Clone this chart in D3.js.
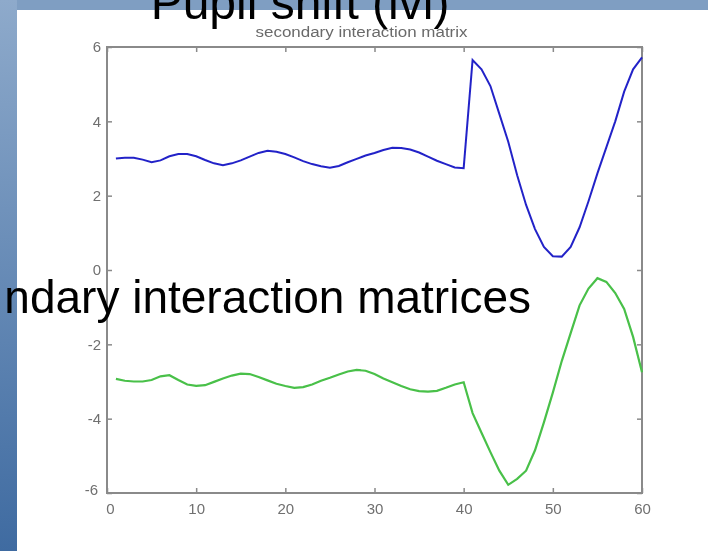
<!DOCTYPE html>
<meta charset="utf-8">
<script src="https://d3js.org/d3.v7.min.js"></script>
<style>
  body { margin: 0; background: #fff; }
</style>
<div id="chart"></div>
<script>

// sample index 1..60
var xs = d3.range(1, 61);

// upper curve (blue)
var blueVals = [3.00, 3.02, 3.02, 2.97, 2.90, 2.95, 3.06, 3.12, 3.12, 3.06,
                2.96, 2.87, 2.82, 2.87, 2.95, 3.05, 3.15, 3.21, 3.18, 3.12,
                3.03, 2.93, 2.85, 2.79, 2.75, 2.80, 2.90, 2.99, 3.08, 3.15,
                3.23, 3.29, 3.28, 3.24, 3.16, 3.05, 2.94, 2.85, 2.76, 2.74,
                5.65, 5.40, 4.95, 4.20, 3.45, 2.55, 1.75, 1.10, 0.62, 0.37,
                0.36, 0.62, 1.15, 1.85, 2.60, 3.30, 4.00, 4.80, 5.40, 5.72];

// lower curve (green)
var greenVals = [-2.93, -2.98, -3.00, -3.00, -2.96, -2.86, -2.83, -2.96, -3.08, -3.12,
                 -3.10, -3.01, -2.92, -2.84, -2.79, -2.80, -2.88, -2.97, -3.06, -3.12,
                 -3.17, -3.15, -3.08, -2.98, -2.90, -2.81, -2.73, -2.69, -2.71, -2.80,
                 -2.92, -3.02, -3.12, -3.21, -3.26, -3.27, -3.25, -3.17, -3.08, -3.02,
                 -3.85, -4.38, -4.90, -5.40, -5.78, -5.62, -5.40, -4.85, -4.10, -3.30,
                 -2.45, -1.70, -0.95, -0.50, -0.22, -0.32, -0.62, -1.05, -1.80, -2.75];

var xTicks = [0, 10, 20, 30, 40, 50, 60];
var yTicks = [-6, -4, -2, 0, 2, 4, 6];

var W = 708, H = 551;
var margin = {top: 47, right: 66, bottom: 58, left: 107},
    width = W - margin.left - margin.right,
    height = H - margin.top - margin.bottom;

var svg = d3.select("#chart")
  .append("svg")
    .attr("width", W)
    .attr("height", H);

// slide background: strip on the left, band on top
var defs = svg.append("defs");
var grad = defs.append("linearGradient")
    .attr("id", "strip")
    .attr("x1", 0).attr("y1", 0).attr("x2", 0).attr("y2", 1);
grad.append("stop").attr("offset", "0%").attr("stop-color", "#8eaacb");
grad.append("stop").attr("offset", "100%").attr("stop-color", "#3f6ba1");

defs.append("filter")
    .attr("id", "soft")
  .append("feGaussianBlur")
    .attr("stdDeviation", 0.5);

svg.append("rect")
    .attr("width", W).attr("height", H)
    .attr("fill", "#fff");
svg.append("rect")
    .attr("x", 0).attr("y", 0)
    .attr("width", W).attr("height", 10)
    .attr("fill", "#7f9ec2");
svg.append("rect")
    .attr("x", 0).attr("y", 0)
    .attr("width", 17).attr("height", H)
    .attr("fill", "url(#strip)");

// scales
var x = d3.scaleLinear()
    .domain([0, 60])
    .range([0, width]);
var y = d3.scaleLinear()
    .domain([-6, 6])
    .range([height, 0]);

var g = svg.append("g")
    .attr("transform", "translate(" + margin.left + "," + margin.top + ")")
    .attr("filter", "url(#soft)");

// matlab-style boxed axes, ticks pointing in
var axisColor = "#8a8a8a",
    labelColor = "#6f6f6f",
    plain = function(d) { return String(d); };   // hyphen minus like matlab

function styleAxis(sel) {
  sel.select(".domain").remove();
  sel.selectAll(".tick line").attr("stroke", axisColor).attr("stroke-width", 1.5);
  sel.selectAll(".tick text")
    .attr("fill", labelColor)
    .style("font-family", "Liberation Sans, Arial, sans-serif")
    .style("font-size", "15px");
}

g.append("g")
    .attr("class", "xbottom")
    .attr("transform", "translate(0," + height + ")")
    .call(d3.axisBottom(x).tickValues(xTicks).tickSize(-5).tickPadding(10).tickFormat(plain))
    .call(styleAxis);

g.append("g")
    .call(d3.axisTop(x).tickValues(xTicks).tickSize(-5).tickFormat(""))
    .call(styleAxis);

g.append("g")
    .attr("class", "yleft")
    .call(d3.axisLeft(y).tickValues(yTicks).tickSize(-5).tickPadding(6).tickFormat(plain))
    .call(styleAxis);

g.append("g")
    .attr("transform", "translate(" + width + ",0)")
    .call(d3.axisRight(y).tickValues(yTicks).tickSize(-5).tickFormat(""))
    .call(styleAxis);

// nudge the corner labels like matlab does
g.select(".yleft").selectAll(".tick text")
  .filter(function(d) { return d === -6; })
    .attr("dy", "0.1em")
    .attr("x", -9);
g.select(".xbottom").selectAll(".tick text")
  .filter(function(d) { return d === 0; })
    .attr("dx", 3);

// the box
g.append("rect")
    .attr("width", width)
    .attr("height", height)
    .attr("fill", "none")
    .attr("stroke", axisColor)
    .attr("stroke-width", 2);

// curves
var line = d3.line()
    .x(function(d) { return x(d[0]); })
    .y(function(d) { return y(d[1]); });

g.append("path")
    .datum(d3.zip(xs, blueVals))
    .attr("fill", "none")
    .attr("stroke", "#2323c8")
    .attr("stroke-width", 2)
    .attr("d", line);

g.append("path")
    .datum(d3.zip(xs, greenVals))
    .attr("fill", "none")
    .attr("stroke", "#48c048")
    .attr("stroke-width", 2.2)
    .attr("d", line);

// plot title
g.append("text")
    .attr("x", width / 2 - 13)
    .attr("y", -10)
    .attr("text-anchor", "middle")
    .attr("fill", "#6a6a6a")
    .style("font-family", "Liberation Sans, Arial, sans-serif")
    .style("font-size", "14px")
    .attr("textLength", 212)
    .attr("lengthAdjust", "spacingAndGlyphs")
    .text("secondary interaction matrix");

// slide texts on top
svg.append("text")
    .attr("x", 300)
    .attr("y", 19)
    .attr("text-anchor", "middle")
    .attr("fill", "#000")
    .style("font-family", "Liberation Sans, Arial, sans-serif")
    .style("font-size", "48px")
    .text("Pupil shift (lvl)");

svg.append("text")
    .attr("x", 531)
    .attr("y", 313)
    .attr("text-anchor", "end")
    .attr("fill", "#000")
    .style("font-family", "Liberation Sans, Arial, sans-serif")
    .style("font-size", "46px")
    .text("ndary interaction matrices");

</script>
